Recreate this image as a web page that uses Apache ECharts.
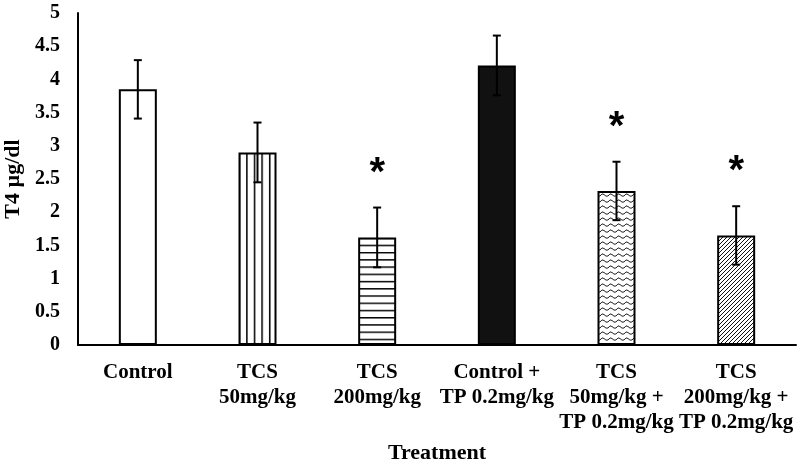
<!DOCTYPE html>
<html>
<head>
<meta charset="utf-8">
<script src="https://cdn.jsdelivr.net/npm/echarts@6/dist/echarts.min.js"></script>
<style>html,body{margin:0;padding:0;background:#fff;}#c{width:800px;height:466px;}</style>
</head>
<body>
<div id="c"></div>
<script>
const categories = ['Control', 'TCS\n50mg/kg', 'TCS\n200mg/kg', 'Control +\nTP 0.2mg/kg', 'TCS\n50mg/kg +\nTP 0.2mg/kg', 'TCS\n200mg/kg +\nTP 0.2mg/kg'];
const means = [3.85, 2.90, 1.62, 4.21, 2.32, 1.65];
const errors = [0.44, 0.45, 0.45, 0.45, 0.44, 0.44];
const significant = [false, false, true, false, true, true];
const yMin = 0, yMax = 5, yInterval = 0.5;

const FONT = '"Liberation Serif", "Times New Roman", serif';
const BAR_W = 38;

function makeCanvas(w, h, draw) {
  const c = document.createElement('canvas');
  c.width = w; c.height = h;
  const ctx = c.getContext('2d');
  ctx.fillStyle = '#fff';
  ctx.fillRect(0, 0, w, h);
  draw(ctx, w, h);
  return c;
}
const vertCanvas = makeCanvas(8, 8, (ctx) => { ctx.fillStyle = '#000'; ctx.fillRect(0, 0, 1.6, 8); });
const horCanvas = makeCanvas(8, 8, (ctx) => { ctx.fillStyle = '#000'; ctx.fillRect(0, 0, 8, 1.6); });
const waveCanvas = makeCanvas(8, 6, (ctx) => {
  ctx.strokeStyle = '#222'; ctx.lineWidth = 1;
  ctx.beginPath();
  ctx.moveTo(0, 4);
  ctx.quadraticCurveTo(2, 0.5, 4, 2.5);
  ctx.quadraticCurveTo(6, 5, 8, 4);
  ctx.stroke();
});
const diagCanvas = makeCanvas(4, 4, (ctx) => {
  ctx.strokeStyle = '#111'; ctx.lineWidth = 1;
  ctx.beginPath();
  ctx.moveTo(-1, 5); ctx.lineTo(5, -1);
  ctx.stroke();
});

const chart = echarts.init(document.getElementById('c'), null, { renderer: 'canvas' });

function buildFills(vx, hy) {
  return [
    '#ffffff',
    { image: vertCanvas, repeat: 'repeat', x: vx, y: 0, scaleX: 0.95, scaleY: 1 },
    { image: horCanvas, repeat: 'repeat', x: 0, y: hy, scaleX: 1, scaleY: 0.904 },
    '#111111',
    { image: waveCanvas, repeat: 'repeat' },
    { image: diagCanvas, repeat: 'repeat' }
  ];
}

function barData(fills) {
  return means.map((v, i) => ({
    value: v,
    itemStyle: { color: fills[i], borderColor: '#000', borderWidth: 2 }
  }));
}
const errData = means.map((v, i) => [i, v, errors[i]]);
const starData = [];
significant.forEach((s, i) => { if (s) starData.push([i, means[i] + errors[i]]); });

chart.setOption({
  animation: false,
  backgroundColor: '#fff',
  grid: { left: 78, right: 4, top: 13, bottom: 121, containLabel: false, outerBoundsMode: 'none' },
  xAxis: {
    type: 'category',
    data: categories,
    name: 'Treatment',
    nameLocation: 'middle',
    nameGap: 97,
    nameTextStyle: { fontFamily: FONT, fontWeight: 'bold', fontSize: 22, color: '#000' },
    axisLine: { lineStyle: { color: '#000', width: 2 } },
    axisTick: { show: false },
    axisLabel: { interval: 0, margin: 15, fontFamily: FONT, fontWeight: 'bold', fontSize: 21, lineHeight: 25, color: '#000' }
  },
  yAxis: {
    type: 'value',
    min: yMin, max: yMax, interval: yInterval,
    name: 'T4 µg/dl',
    nameLocation: 'middle',
    nameGap: 53,
    nameTextStyle: { fontFamily: FONT, fontWeight: 'bold', fontSize: 22, color: '#000' },
    axisLine: { show: true, lineStyle: { color: '#000', width: 2 } },
    axisTick: { show: false },
    splitLine: { show: false },
    axisLabel: { margin: 18, fontFamily: FONT, fontWeight: 'bold', fontSize: 20, color: '#000' }
  },
  series: [
    {
      type: 'bar',
      data: barData(buildFills(0, 0)),
      barWidth: BAR_W
    },
    {
      type: 'custom',
      data: errData,
      z: 10,
      renderItem: function (params, api) {
        const x = api.value(0), m = api.value(1), e = api.value(2);
        const top = api.coord([x, m + e]);
        const bot = api.coord([x, m - e]);
        const cap = 4;
        const st = { stroke: '#000', lineWidth: 2 };
        return {
          type: 'group',
          children: [
            { type: 'line', shape: { x1: top[0], y1: top[1], x2: bot[0], y2: bot[1] }, style: st },
            { type: 'line', shape: { x1: top[0] - cap, y1: top[1], x2: top[0] + cap, y2: top[1] }, style: st },
            { type: 'line', shape: { x1: bot[0] - cap, y1: bot[1], x2: bot[0] + cap, y2: bot[1] }, style: st }
          ]
        };
      }
    },
    {
      type: 'custom',
      data: starData,
      z: 10,
      renderItem: function (params, api) {
        const p = api.coord([api.value(0), api.value(1) + 0.63]);
        return {
          type: 'text',
          x: p[0], y: p[1] + 8,
          style: { text: '*', fontFamily: '"Liberation Sans", Arial, sans-serif', fontWeight: 'bold', fontSize: 40, fill: '#000', align: 'center', verticalAlign: 'middle' }
        };
      }
    }
  ]
});

// align stripe patterns with their bars' edges
const p1 = chart.convertToPixel({ xAxisIndex: 0, yAxisIndex: 0 }, [1, means[1]]);
const p2 = chart.convertToPixel({ xAxisIndex: 0, yAxisIndex: 0 }, [2, means[2]]);
chart.setOption({ series: [{ data: barData(buildFills(p1[0] - BAR_W / 2, p2[1])) }] });
</script>
</body>
</html>
